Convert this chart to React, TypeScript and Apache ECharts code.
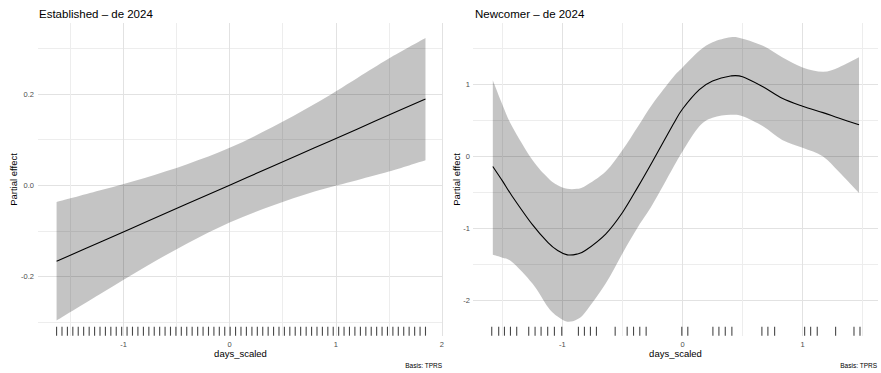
import React, { useEffect, useRef } from "react";
import * as echarts from "echarts";

// ---------- Left panel: Established – de 2024 ----------
const LEFT_X = [-1.63, -1.2, -0.8, -0.4, 0, 0.4, 0.8, 1.2, 1.5, 1.845];
const LEFT_FIT = [-0.167, -0.123, -0.082, -0.041, 0.0, 0.041, 0.082, 0.123, 0.154, 0.189];
const LEFT_UPPER = [-0.037, -0.01, 0.016, 0.046, 0.082, 0.127, 0.178, 0.235, 0.278, 0.323];
const LEFT_LOWER = [-0.297, -0.236, -0.18, -0.128, -0.082, -0.045, -0.014, 0.011, 0.03, 0.055];
const LEFT_RUG = [
  -1.63, -1.579, -1.528, -1.477, -1.426, -1.375, -1.323, -1.272, -1.221, -1.17,
  -1.119, -1.068, -1.017, -0.966, -0.915, -0.864, -0.812, -0.761, -0.71, -0.659,
  -0.608, -0.557, -0.506, -0.455, -0.404, -0.353, -0.301, -0.25, -0.199, -0.148,
  -0.097, -0.046, 0.005, 0.056, 0.107, 0.158, 0.21, 0.261, 0.312, 0.363,
  0.414, 0.465, 0.516, 0.567, 0.618, 0.669, 0.721, 0.772, 0.823, 0.874,
  0.925, 0.976, 1.027, 1.078, 1.129, 1.18, 1.232, 1.283, 1.334, 1.385,
  1.436, 1.487, 1.538, 1.589, 1.64, 1.691, 1.743, 1.794, 1.845,
];
const LEFT_X_LABELS = [-1, 0, 1, 2];
const LEFT_X_GRID = [-1.5, -1, -0.5, 0, 0.5, 1, 1.5, 2];
const LEFT_Y_LABELS = [-0.2, 0, 0.2];
const LEFT_Y_GRID = [-0.3, -0.2, -0.1, 0, 0.1, 0.2, 0.3];

// ---------- Right panel: Newcomer – de 2024 ----------
const RIGHT_X = [-1.58, -1.5, -1.42, -1.25, -1.12, -1.04, -0.96, -0.88, -0.81, -0.64, -0.5, -0.37, -0.25, -0.08, 0, 0.14, 0.25, 0.4, 0.5, 0.67, 0.83, 1.0, 1.17, 1.3, 1.47];
const RIGHT_FIT = [-0.14, -0.34, -0.55, -0.95, -1.2, -1.31, -1.37, -1.36, -1.31, -1.08, -0.78, -0.42, -0.07, 0.44, 0.66, 0.93, 1.05, 1.12, 1.11, 0.97, 0.81, 0.7, 0.61, 0.535, 0.44];
const RIGHT_UPPER = [1.06, 0.72, 0.42, -0.05, -0.3, -0.4, -0.45, -0.45, -0.41, -0.21, 0.09, 0.42, 0.73, 1.1, 1.24, 1.47, 1.59, 1.66, 1.64, 1.54, 1.38, 1.24, 1.18, 1.24, 1.38];
const RIGHT_LOWER = [-1.37, -1.41, -1.47, -1.77, -2.1, -2.23, -2.3, -2.27, -2.17, -1.77, -1.35, -0.98, -0.67, -0.16, 0.07, 0.42, 0.54, 0.58, 0.56, 0.42, 0.23, 0.12, 0.0, -0.21, -0.51];
const RIGHT_RUG = [
  -1.589, -1.531, -1.483, -1.433, -1.381,
  -1.281, -1.228, -1.178, -1.123, -1.067, -1.006,
  -0.867, -0.817, -0.767, -0.717,
  -0.561, -0.461, -0.408, -0.356, -0.303,
  -0.006, 0.044,
  0.253, 0.303, 0.356, 0.411,
  0.661, 0.711, 0.767,
  1.017, 1.067, 1.122,
  1.275,
  1.428, 1.478,
];
const RIGHT_X_LABELS = [-1, 0, 1];
const RIGHT_X_GRID = [-1.5, -1, -0.5, 0, 0.5, 1, 1.5];
const RIGHT_Y_LABELS = [-2, -1, 0, 1];
const RIGHT_Y_GRID = [-2, -1.5, -1, -0.5, 0, 0.5, 1, 1.5];

const TITLES = ["Established – de 2024", "Newcomer – de 2024"];
const X_NAME = "days_scaled";
const Y_NAME = "Partial effect";
const CAPTION = "Basis: TPRS";

const FONT = "'Liberation Sans', Arial, Helvetica, sans-serif";
const MAJOR = "#e2e2e2";
const MINOR = "#ededed";
const RIBBON = "rgba(0,0,0,0.23)";

// Catmull-Rom spline through pixel points, as SVG path segments (no initial M)
function splineSegs(p: number[][]): string {
  let d = "";
  const n = p.length;
  for (let i = 0; i < n - 1; i++) {
    const p0 = p[Math.max(0, i - 1)];
    const p1 = p[i];
    const p2 = p[i + 1];
    const p3 = p[Math.min(n - 1, i + 2)];
    const c1x = p1[0] + (p2[0] - p0[0]) / 6;
    const c1y = p1[1] + (p2[1] - p0[1]) / 6;
    const c2x = p2[0] - (p3[0] - p1[0]) / 6;
    const c2y = p2[1] - (p3[1] - p1[1]) / 6;
    d += ` C ${c1x.toFixed(2)} ${c1y.toFixed(2)} ${c2x.toFixed(2)} ${c2y.toFixed(2)} ${p2[0].toFixed(2)} ${p2[1].toFixed(2)}`;
  }
  return d;
}

function ribbon(xs: number[], up: number[], lo: number[], idx: number) {
  return {
    type: "custom",
    xAxisIndex: idx,
    yAxisIndex: idx,
    silent: true,
    clip: false,
    z: 2,
    data: xs.map((x, i) => [x, up[i], lo[i]]),
    encode: { x: 0, y: [1, 2] },
    renderItem: (params: any, api: any) => {
      if (params.dataIndex !== 0) return null;
      const u = xs.map((x, i) => api.coord([x, up[i]]));
      const l = xs.map((x, i) => api.coord([x, lo[i]])).reverse();
      const d =
        `M ${u[0][0].toFixed(2)} ${u[0][1].toFixed(2)}` +
        splineSegs(u) +
        ` L ${l[0][0].toFixed(2)} ${l[0][1].toFixed(2)}` +
        splineSegs(l) +
        " Z";
      return { type: "path", shape: { pathData: d }, style: { fill: RIBBON } };
    },
  };
}

function fitLine(xs: number[], ys: number[], idx: number) {
  return {
    type: "custom",
    xAxisIndex: idx,
    yAxisIndex: idx,
    silent: true,
    clip: false,
    z: 3,
    data: xs.map((x, i) => [x, ys[i]]),
    encode: { x: 0, y: 1 },
    renderItem: (params: any, api: any) => {
      if (params.dataIndex !== 0) return null;
      const p = xs.map((x, i) => api.coord([x, ys[i]]));
      const d = `M ${p[0][0].toFixed(2)} ${p[0][1].toFixed(2)}` + splineSegs(p);
      return {
        type: "path",
        shape: { pathData: d },
        style: { fill: "none", stroke: "#000", lineWidth: 1.1 },
      };
    },
  };
}

function rug(xs: number[], yMin: number, idx: number) {
  return {
    type: "scatter",
    xAxisIndex: idx,
    yAxisIndex: idx,
    data: xs.map((x) => [x, yMin]),
    symbol: "rect",
    symbolSize: [1.1, 9],
    symbolOffset: [0, -4.8],
    clip: false,
    silent: true,
    z: 3,
    itemStyle: { color: "#1a1a1a" },
  };
}

function xAxis(idx: number, min: number, max: number, grid: number[], labels: number[], colors: string[]) {
  return {
    type: "value",
    gridIndex: idx,
    min,
    max,
    axisLine: { show: false },
    axisTick: { show: false, customValues: grid },
    axisLabel: {
      customValues: labels,
      color: "#4d4d4d",
      fontSize: 7.5,
      fontFamily: FONT,
      margin: 4,
      formatter: (v: number) => String(v),
    },
    splitLine: { show: true, lineStyle: { color: colors, width: 1 } },
  };
}

function yAxis(idx: number, min: number, max: number, grid: number[], labels: number[], colors: string[], fmt: (v: number) => string, margin: number) {
  return {
    type: "value",
    gridIndex: idx,
    min,
    max,
    axisLine: { show: false },
    axisTick: { show: false, customValues: grid },
    axisLabel: {
      customValues: labels,
      color: "#4d4d4d",
      fontSize: 7.5,
      fontFamily: FONT,
      margin,
      formatter: fmt,
    },
    splitLine: { show: true, lineStyle: { color: colors, width: 1 } },
  };
}

function txt(text: string, x: number, y: number, size: number, align: string, color = "#000", rotation = 0) {
  return {
    type: "text",
    x,
    y,
    rotation,
    silent: true,
    style: {
      text,
      fontSize: size,
      fontFamily: FONT,
      fill: color,
      align,
      verticalAlign: "middle",
      textAlign: align,
      textVerticalAlign: "middle",
    },
  };
}

export default function App() {
  const ref = useRef<HTMLDivElement>(null);
  useEffect(() => {
    if (!ref.current) return;
    const chart = echarts.init(ref.current, undefined, { renderer: "svg" });
    const leftMin = -0.331;
    const rightMin = -2.5;
    chart.setOption({
      animation: false,
      backgroundColor: "#ffffff",
      grid: [
        { left: 38, right: 438, top: 23, bottom: 37 },
        { left: 473, right: 3, top: 23, bottom: 37 },
      ],
      xAxis: [
        xAxis(0, -1.805, 2.01, LEFT_X_GRID, LEFT_X_LABELS, [MINOR, MAJOR]),
        xAxis(1, -1.745, 1.628, RIGHT_X_GRID, RIGHT_X_LABELS, [MINOR, MAJOR]),
      ],
      yAxis: [
        yAxis(0, leftMin, 0.356, LEFT_Y_GRID, LEFT_Y_LABELS, [MINOR, MAJOR], (v: number) => v.toFixed(1), 4),
        yAxis(1, rightMin, 1.858, RIGHT_Y_GRID, RIGHT_Y_LABELS, [MAJOR, MINOR], (v: number) => String(v), 3),
      ],
      series: [
        ribbon(LEFT_X, LEFT_UPPER, LEFT_LOWER, 0),
        fitLine(LEFT_X, LEFT_FIT, 0),
        rug(LEFT_RUG, leftMin, 0),
        ribbon(RIGHT_X, RIGHT_UPPER, RIGHT_LOWER, 1),
        fitLine(RIGHT_X, RIGHT_FIT, 1),
        rug(RIGHT_RUG, rightMin, 1),
      ],
      graphic: [
        txt(TITLES[0], 39, 13.5, 11.5, "left"),
        txt(TITLES[1], 475, 13.5, 11.5, "left"),
        txt(X_NAME, 240.5, 353, 9.5, "center"),
        txt(X_NAME, 675.5, 353, 9.5, "center"),
        txt(Y_NAME, 13, 179.5, 9.5, "center", "#000", Math.PI / 2),
        txt(Y_NAME, 456, 179.5, 9.5, "center", "#000", Math.PI / 2),
        txt(CAPTION, 442, 365, 6.5, "right", "#000"),
        txt(CAPTION, 877, 365, 6.5, "right", "#000"),
      ],
    });
    return () => chart.dispose();
  }, []);
  return (
    <div
      ref={ref}
      style={{ position: "fixed", left: 0, top: 0, width: 881, height: 373, background: "#fff" }}
    />
  );
}
